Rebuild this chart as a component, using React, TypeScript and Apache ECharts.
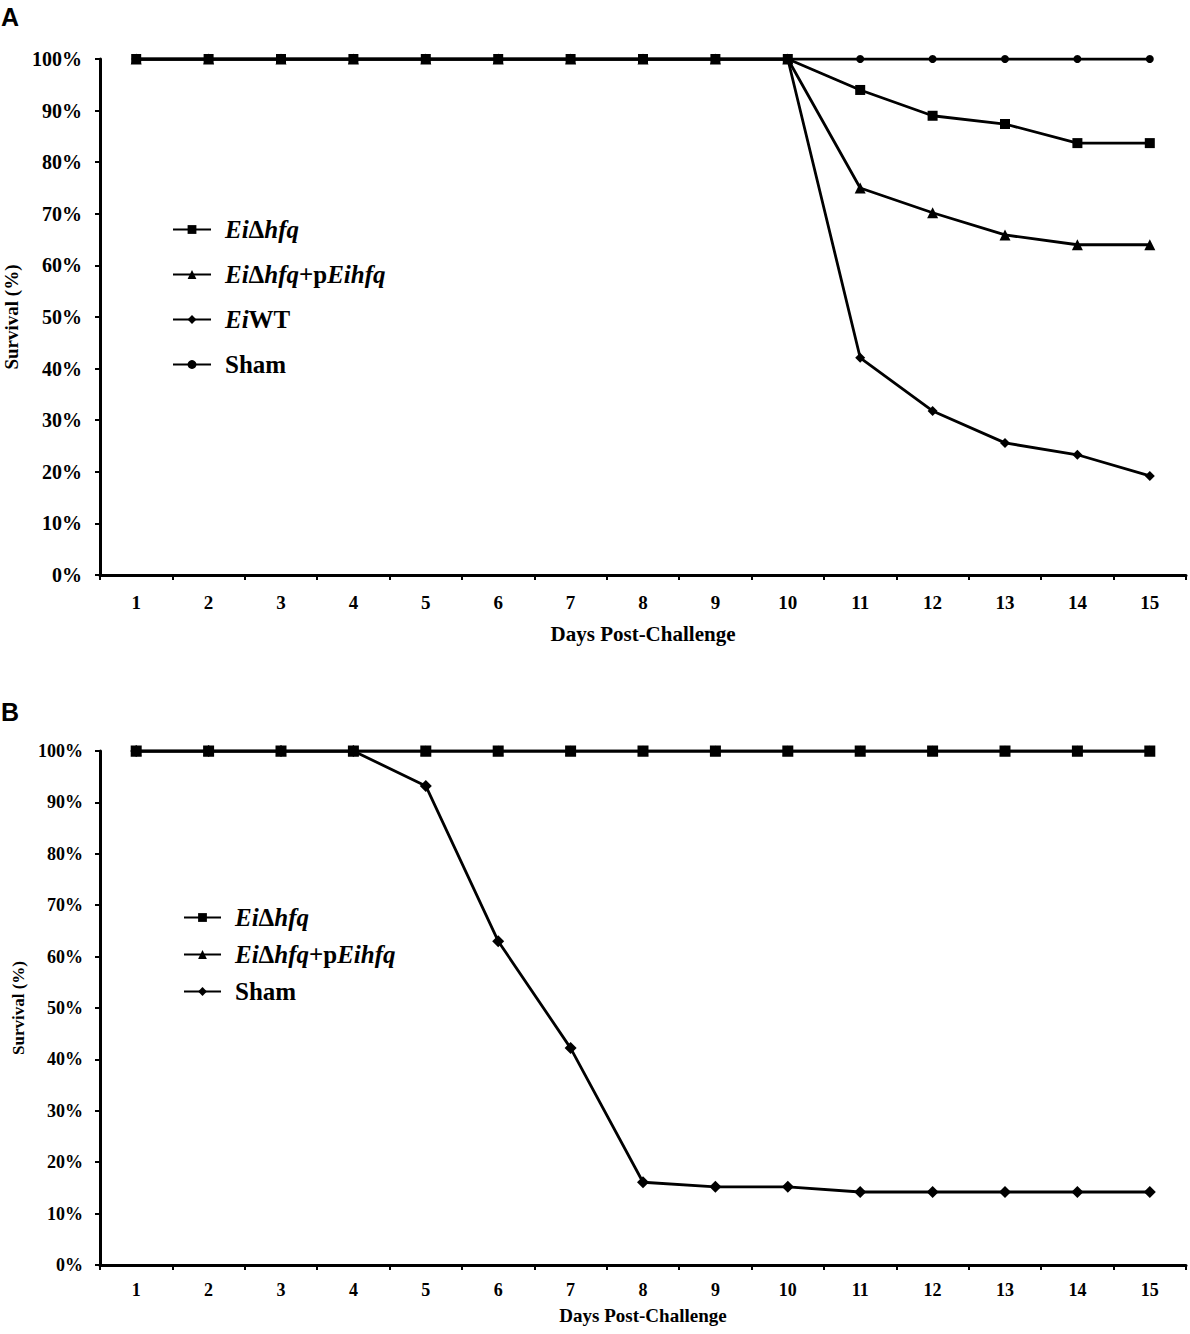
import React, { useEffect, useRef } from "react";
import * as echarts from "echarts";

const SERIF = '"Liberation Serif", "Times New Roman", serif';
const SANS = '"Liberation Sans", Arial, sans-serif';

const days = ["1", "2", "3", "4", "5", "6", "7", "8", "9", "10", "11", "12", "13", "14", "15"];

// Panel A
const aHfq = [100, 100, 100, 100, 100, 100, 100, 100, 100, 100, 94, 89, 87.4, 83.7, 83.7];
const aComp = [100, 100, 100, 100, 100, 100, 100, 100, 100, 100, 75, 70.2, 65.9, 64, 64];
const aWT = [100, 100, 100, 100, 100, 100, 100, 100, 100, 100, 42.1, 31.8, 25.6, 23.3, 19.2];
const aSham = [100, 100, 100, 100, 100, 100, 100, 100, 100, 100, 100, 100, 100, 100, 100];

// Panel B
const bHfq = [100, 100, 100, 100, 100, 100, 100, 100, 100, 100, 100, 100, 100, 100, 100];
const bComp = [100, 100, 100, 100, 100, 100, 100, 100, 100, 100, 100, 100, 100, 100, 100];
const bSham = [100, 100, 100, 100, 93.2, 63, 42.2, 16.1, 15.2, 15.2, 14.2, 14.2, 14.2, 14.2, 14.2];

const legendText: Record<string, string> = {
  "A-hfq": "{i|Ei}{b|Δ}{i|hfq}",
  "A-comp": "{i|Ei}{b|Δ}{i|hfq}{b|+p}{i|Eihfq}",
  "A-wt": "{i|Ei}{b|WT}",
  "A-sham": "{b|Sham}",
  "B-hfq": "{i|Ei}{b|Δ}{i|hfq}",
  "B-comp": "{i|Ei}{b|Δ}{i|hfq}{b|+p}{i|Eihfq}",
  "B-sham": "{b|Sham}",
};

const rich = (fs: number) => ({
  i: { fontFamily: SERIF, fontStyle: "italic", fontWeight: "bold", fontSize: fs, color: "#000" },
  b: { fontFamily: SERIF, fontWeight: "bold", fontSize: fs, color: "#000" },
});

const lineSeries = (name: string, data: number[], symbol: string, size: number, xi: number) => ({
  name,
  type: "line",
  xAxisIndex: xi,
  yAxisIndex: xi,
  data,
  symbol,
  symbolSize: size,
  showAllSymbol: true,
  lineStyle: { color: "#000", width: 2.8 },
  itemStyle: { color: "#000" },
});

const xAxisCfg = (gi: number, fs: number, margin: number, nameFs: number, nameGap: number) => ({
  type: "category",
  gridIndex: gi,
  data: days,
  boundaryGap: true,
  name: "Days Post-Challenge",
  nameLocation: "middle",
  nameGap,
  nameTextStyle: { fontFamily: SERIF, fontWeight: "bold", fontSize: nameFs, color: "#000" },
  axisLine: { lineStyle: { color: "#000", width: 3 } },
  axisTick: { show: true, length: 5, lineStyle: { color: "#000", width: 2 } },
  axisLabel: { fontFamily: SERIF, fontWeight: "bold", fontSize: fs, color: "#000", margin },
  splitLine: { show: false },
});

const yAxisCfg = (gi: number, fs: number, margin: number, nameFs: number, nameGap: number) => ({
  type: "value",
  gridIndex: gi,
  min: 0,
  max: 100,
  interval: 10,
  name: "Survival (%)",
  nameLocation: "middle",
  nameGap,
  nameRotate: 90,
  nameTextStyle: { fontFamily: SERIF, fontWeight: "bold", fontSize: nameFs, color: "#000" },
  axisLine: { show: true, lineStyle: { color: "#000", width: 3 } },
  axisTick: { show: true, length: 5, lineStyle: { color: "#000", width: 2 } },
  axisLabel: { fontFamily: SERIF, fontWeight: "bold", fontSize: fs, color: "#000", margin, formatter: "{value}%" },
  splitLine: { show: false },
});

export default function App() {
  const ref = useRef<HTMLDivElement>(null);
  useEffect(() => {
    document.body.style.margin = "0";
    const chart = echarts.init(ref.current!, undefined, { renderer: "svg" });
    chart.setOption({
      animation: false,
      backgroundColor: "#fff",
      graphic: [
        { type: "text", left: 1, top: 4, style: { text: "A", fontFamily: SANS, fontWeight: "bold", fontSize: 25, fill: "#000" } },
        { type: "text", left: 1, top: 699, style: { text: "B", fontFamily: SANS, fontWeight: "bold", fontSize: 25, fill: "#000" } },
      ],
      legend: [
        {
          orient: "vertical",
          left: 167,
          top: 212,
          itemWidth: 38,
          itemHeight: 11,
          itemGap: 20,
          data: ["A-hfq", "A-comp", "A-wt", "A-sham"],
          formatter: (n: string) => legendText[n],
          textStyle: { rich: rich(25), padding: [0, 0, 0, 9] },
          selectedMode: false,
        },
        {
          orient: "vertical",
          left: 178,
          top: 900,
          itemWidth: 37,
          itemHeight: 11,
          itemGap: 12,
          data: ["B-hfq", "B-comp", "B-sham"],
          formatter: (n: string) => legendText[n],
          textStyle: { rich: rich(25), padding: [0, 0, 0, 9] },
          selectedMode: false,
        },
      ],
      grid: [
        { left: 100, right: 4, top: 59, height: 516, outerBoundsMode: "none", containLabel: false },
        { left: 100, right: 4, top: 751, height: 514, outerBoundsMode: "none", containLabel: false },
      ],
      xAxis: [xAxisCfg(0, 19, 18, 21, 48), xAxisCfg(1, 18, 16, 19, 41)],
      yAxis: [yAxisCfg(0, 20, 18, 19, 76), yAxisCfg(1, 18, 17, 17, 68)],
      series: [
        lineSeries("A-sham", aSham, "circle", 8, 0),
        lineSeries("A-wt", aWT, "diamond", 10, 0),
        lineSeries("A-comp", aComp, "triangle", 11, 0),
        lineSeries("A-hfq", aHfq, "rect", 10, 0),
        lineSeries("B-sham", bSham, "diamond", 12, 1),
        lineSeries("B-comp", bComp, "triangle", 11, 1),
        lineSeries("B-hfq", bHfq, "rect", 11, 1),
      ],
    });
    return () => chart.dispose();
  }, []);
  return <div ref={ref} style={{ width: 1190, height: 1334 }} />;
}
